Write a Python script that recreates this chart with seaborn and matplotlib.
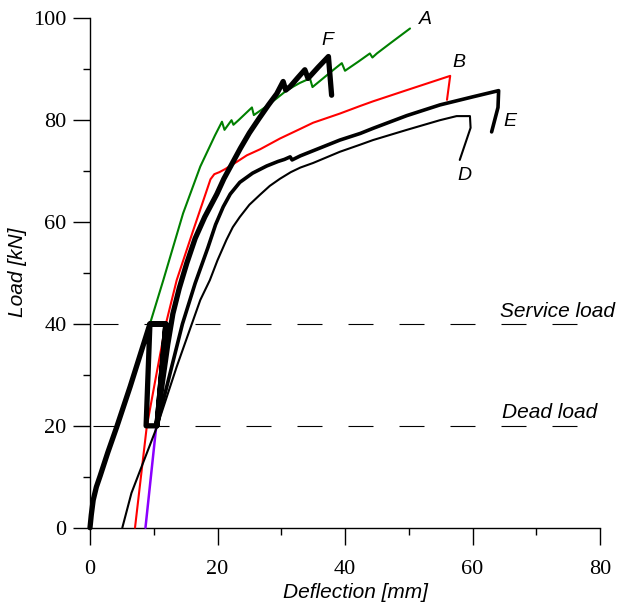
import matplotlib
matplotlib.use("Agg")
import matplotlib.pyplot as plt
from matplotlib.ticker import MultipleLocator
import seaborn as sns
import pandas as pd

# Load-deflection curves, deflection in mm, load in kN
a_defl = [9.4, 11.5, 14.6, 17.3, 19.6, 20.7, 21.1, 22.2, 22.5, 23.3, 25.4, 25.7, 27.2,
          29.3, 30.9, 32.9, 34.5, 34.9, 38.2, 39.5, 40.0, 42.1, 43.9, 44.3, 45.0, 47.1, 50.2]
a_load = [40.0, 48.6, 61.7, 70.9, 77.0, 79.7, 78.1, 80.0, 79.1, 80.0, 82.5, 81.0, 82.3,
          84.3, 85.9, 87.3, 88.2, 86.5, 89.9, 91.2, 89.7, 91.5, 93.1, 92.3, 93.1, 95.1, 98.0]

b_defl = [7.06, 8.9, 10.4, 11.9, 13.6, 16.2, 18.2, 18.9, 19.5, 20.3, 21.2, 23.0, 24.6,
          26.7, 29.8, 33.0, 35.0, 39.2, 42.4, 44.4, 49.7, 56.5, 56.0]
b_load = [0.0, 19.8, 30.0, 40.0, 48.6, 58.4, 65.8, 68.4, 69.4, 69.8, 70.4, 71.8, 73.1,
          74.3, 76.4, 78.3, 79.5, 81.3, 82.8, 83.7, 85.9, 88.7, 84.0]

d_defl = [5.07, 6.5, 8.1, 10.5, 13.6, 17.3, 18.8, 20.0, 21.4, 22.4, 23.5, 25.0, 26.7,
          28.2, 29.8, 31.5, 33.0, 35.0, 39.2, 42.4, 44.4, 49.7, 54.9, 57.5, 59.6, 59.7, 58.0]
d_load = [0.0, 6.8, 12.0, 19.8, 31.6, 44.7, 48.6, 52.5, 56.5, 59.0, 61.0, 63.4, 65.4,
          67.1, 68.5, 69.8, 70.7, 71.6, 73.8, 75.2, 76.1, 78.1, 80.0, 80.8, 80.8, 78.5, 72.2]

e_defl = [10.5, 12.5, 14.5, 16.5, 18.5, 19.7, 20.9, 22.0, 23.5, 25.5, 27.7, 29.5, 30.5,
          31.4, 31.7, 33.0, 35.0, 37.6, 39.2, 42.4, 44.4, 49.7, 54.9, 60.1, 64.1, 64.0, 63.0]
e_load = [20.0, 30.0, 40.0, 48.0, 55.0, 59.5, 63.0, 65.5, 67.8, 69.6, 71.0, 71.9, 72.3,
          72.8, 72.2, 73.0, 74.0, 75.3, 76.1, 77.4, 78.4, 80.9, 83.0, 84.6, 85.8, 82.5, 77.7]

# F: first loading, service-load cycle between 20 and 40 kN, then loading to failure
f_defl = [0.0, 0.2, 0.5, 1.0, 1.6, 2.8, 4.2, 6.3, 9.4, 11.9, 10.5, 8.8, 9.4, 11.9, 10.5,
          11.3, 12.2, 13.0, 14.0, 15.2, 16.5, 18.0, 19.9, 21.0, 22.3, 23.6, 25.0, 26.5,
          28.0, 29.3, 30.3, 30.7, 31.4, 32.5, 33.7, 34.2, 35.8, 37.4, 37.9]
f_load = [0.0, 2.5, 5.4, 8.0, 10.2, 14.8, 19.8, 27.7, 40.0, 40.0, 20.0, 20.0, 40.0, 40.0, 20.0,
          28.0, 36.0, 42.0, 47.0, 52.0, 56.8, 61.0, 65.5, 68.5, 71.5, 74.5, 77.5, 80.3,
          83.0, 85.2, 87.6, 85.9, 86.6, 88.2, 89.9, 88.2, 90.4, 92.5, 84.9]

# Reloading branch
p_defl = [8.7, 10.4]
p_load = [0.0, 20.0]

ref_loads = [40, 20]
ref_names = ["Service load", "Dead load"]

curve_names = ["A", "B", "D", "E", "F"]
name_x = [52.7, 57.9, 58.7, 65.9, 37.2]
name_y = [99.7, 91.4, 69.2, 79.8, 95.7]

sns.set_style("ticks")
plt.rcParams.update({
    "lines.scale_dashes": False,
    "font.family": ["Liberation Sans", "DejaVu Sans"],
    "text.color": "black",
    "axes.labelcolor": "black",
    "xtick.color": "black",
    "ytick.color": "black",
    "axes.edgecolor": "black",
})

W, H = 620, 607
fig = plt.figure(figsize=(W / 100, H / 100), dpi=100)
ax = fig.add_axes([90 / W, 1 - 527.7 / H, 510 / W, 509.4 / H])

# dashed reference load levels
for yv in ref_loads:
    ax.plot([0, 80], [yv, yv], color="black", lw=0.8,
            linestyle=(34.56, (18.0, 18.72)), zorder=1)

styles = [
    (a_defl, a_load, "#008000", 1.5),
    (b_defl, b_load, "#ff0000", 1.5),
    (p_defl, p_load, "#8a00ff", 1.8),
    (d_defl, d_load, "black", 1.5),
    (e_defl, e_load, "black", 2.6),
    (f_defl, f_load, "black", 3.8),
]
for xs, ys, col, lw in styles:
    df = pd.DataFrame({"defl": xs, "load": ys})
    sns.lineplot(data=df, x="defl", y="load", sort=False, estimator=None,
                 color=col, lw=lw, ax=ax, clip_on=False, zorder=3,
                 solid_joinstyle="round", solid_capstyle="round")

ax.set_xlim(0, 80)
ax.set_ylim(0, 100)
ax.xaxis.set_major_locator(MultipleLocator(20))
ax.xaxis.set_minor_locator(MultipleLocator(10))
ax.yaxis.set_major_locator(MultipleLocator(20))
ax.yaxis.set_minor_locator(MultipleLocator(10))
sns.despine(ax=ax)
for s in ("left", "bottom"):
    ax.spines[s].set_linewidth(1.0)
    ax.spines[s].set_color("black")
ax.tick_params(which="major", direction="out", length=12, width=1.0, color="black")
ax.tick_params(which="minor", direction="out", length=5, width=1.0, color="black")
ax.tick_params(axis="x", which="major", pad=11)
ax.tick_params(axis="y", which="major", pad=5)
for lab in ax.get_xticklabels() + ax.get_yticklabels():
    lab.set_fontfamily("Liberation Serif")
    lab.set_fontsize(16)
    lab.set_color("black")

ax.set_xlabel("Deflection [mm]", fontsize=15, style="italic", color="black")
ax.set_ylabel("Load [kN]", fontsize=15, style="italic", color="black")
ax.xaxis.set_label_coords(0.52, -0.108)
ax.yaxis.set_label_coords(-0.123, 0.502)

ax.text(64.3, 41.4, ref_names[0], fontsize=15, style="italic", va="baseline", ha="left")
ax.text(64.6, 21.5, ref_names[1], fontsize=15, style="italic", va="baseline", ha="left")
for nm, xv, yv in zip(curve_names, name_x, name_y):
    ax.text(xv, yv, nm, fontsize=14, style="italic", ha="center", va="center")

fig.savefig("out.png", dpi=100, facecolor="white")
